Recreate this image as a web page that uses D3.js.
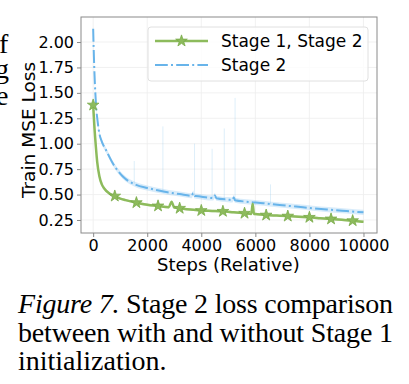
<!DOCTYPE html>
<html><head><meta charset="utf-8">
<script src="https://cdn.jsdelivr.net/npm/d3@7/dist/d3.min.js"></script>
<style>body{margin:0;background:#fff}svg{display:block}</style>
</head><body>
<script>
const greenSteps = [0,50,100,150,230,320,410,600,800,1000,1200,1600,2000,2400,2800,2900,3000,3200,3600,4000,4400,4800,5200,5600,5850,5900,5950,6000,6400,6800,7200,7600,8000,8400,8800,9200,9600,10000];
const greenLoss  = [1.38,1.15,0.97,0.82,0.68,0.60,0.56,0.51,0.485,0.46,0.445,0.42,0.40,0.388,0.376,0.43,0.372,0.365,0.352,0.343,0.339,0.335,0.325,0.316,0.31,0.41,0.309,0.308,0.298,0.293,0.288,0.282,0.276,0.268,0.26,0.252,0.243,0.232];
const blueSteps  = [0,40,80,120,160,230,320,470,720,1090,1590,2000,2330,2800,3200,3650,3700,3750,3800,4440,4500,4560,5000,5150,5200,5250,5670,6300,6900,7500,8130,8700,9370,10000];
const blueLoss   = [2.13,1.75,1.50,1.33,1.23,1.10,1.02,0.94,0.81,0.68,0.595,0.565,0.545,0.52,0.505,0.488,0.515,0.486,0.485,0.466,0.49,0.464,0.45,0.446,0.47,0.444,0.43,0.415,0.397,0.382,0.365,0.352,0.338,0.325];
const spikeSteps = [1520,2580,3750,4400,4850,5250,6560];
const spikeTops  = [0.83,1.17,1.00,0.95,1.15,1.45,0.60];
const markerSteps = [0,800,1600,2400,3200,4000,4800,5600,6400,7200,8000,8800,9600];
const xTicks = [0,2000,4000,6000,8000,10000];
const yTicks = [0.25,0.50,0.75,1.00,1.25,1.50,1.75,2.00];
const seriesNames = ["Stage 1, Stage 2","Stage 2"];
const captionLines = ["Stage 2 loss comparison","between with and without Stage 1","initialization."];
const sideLetters = ["f","g","e"];

const W=409,H=384;
const svg=d3.select("body").append("svg").attr("width",W).attr("height",H);
const L=81,R=377,T=17,B=233;
const x=d3.scaleLinear().domain([-450,10500]).range([L,R]);
const y=d3.scaleLinear().domain([0.122,2.246]).range([B,T]);
const green="#8dbb5c", blue="#68b4ea";
const font="DejaVu Sans, sans-serif";
const dash="12.8,3.2,2,3.2";

// clipped letters from neighbouring column
const side=svg.append("g").attr("font-family","Liberation Serif, serif").attr("font-size",28).attr("fill","#000");
side.selectAll("text").data(sideLetters).enter().append("text")
 .attr("x",(d,i)=>[-1,-5,-4][i]).attr("y",(d,i)=>[53,78,105][i]).text(d=>d);

// grid
const g=svg.append("g");
g.selectAll(".gx").data(xTicks).enter().append("line").attr("x1",d=>x(d)).attr("x2",d=>x(d)).attr("y1",T).attr("y2",B).attr("stroke","#ededed").attr("stroke-width",0.8);
g.selectAll(".gy").data(yTicks).enter().append("line").attr("y1",d=>y(d)).attr("y2",d=>y(d)).attr("x1",L).attr("x2",R).attr("stroke","#ededed").attr("stroke-width",0.8);

// faint spikes
const bInterp=d3.scaleLinear().domain(blueSteps).range(blueLoss);
g.selectAll(".sp").data(spikeSteps).enter().append("line")
 .attr("x1",d=>x(d)).attr("x2",d=>x(d))
 .attr("y1",d=>y(bInterp(d)))
 .attr("y2",(d,i)=>y(spikeTops[i]))
 .attr("stroke",blue).attr("stroke-opacity",0.22).attr("stroke-width",1);

// bands
const bBand=d3.area().x((d,i)=>x(blueSteps[i])).y0(d=>y(d-0.025)).y1(d=>y(d+0.025)).curve(d3.curveMonotoneX);
g.append("path").datum(blueLoss).attr("d",bBand).attr("fill",blue).attr("opacity",0.25);
const gBand=d3.area().x((d,i)=>x(greenSteps[i])).y0(d=>y(d-0.012)).y1(d=>y(d+0.012)).curve(d3.curveMonotoneX);
g.append("path").datum(greenLoss).attr("d",gBand).attr("fill",green).attr("opacity",0.3);

// lines
const bl=d3.line().x((d,i)=>x(blueSteps[i])).y(d=>y(d)).curve(d3.curveMonotoneX);
g.append("path").datum(blueLoss).attr("d",bl).attr("fill","none").attr("stroke",blue).attr("stroke-width",2).attr("stroke-dasharray",dash);
const gl=d3.line().x((d,i)=>x(greenSteps[i])).y(d=>y(d)).curve(d3.curveMonotoneX);
g.append("path").datum(greenLoss).attr("d",gl).attr("fill","none").attr("stroke",green).attr("stroke-width",2.5);

// markers
const keep=greenSteps.map((s,i)=>![2900,5900].includes(s));
const gInterp=d3.scaleLinear().domain(greenSteps.filter((s,i)=>keep[i])).range(greenLoss.filter((v,i)=>keep[i]));
const star=d3.symbol().type(d3.symbolStar).size(42);
g.selectAll(".mk").data(markerSteps).enter().append("path").attr("d",star)
 .attr("transform",d=>`translate(${x(d)},${y(gInterp(d))})`).attr("fill",green).attr("stroke","#7aab4a").attr("stroke-width",0.8);

// frame
svg.append("rect").attr("x",L).attr("y",T).attr("width",R-L).attr("height",B-T).attr("fill","none").attr("stroke","#8a8a8a").attr("stroke-width",1);

// axes
const ax=svg.append("g").attr("transform",`translate(0,${B})`).call(d3.axisBottom(x).tickValues(xTicks).tickSize(4).tickPadding(3).tickFormat(d3.format("d")));
const ay=svg.append("g").attr("transform",`translate(${L},0)`).call(d3.axisLeft(y).tickValues(yTicks).tickSize(4).tickPadding(3).tickFormat(d3.format(".2f")));
[ax,ay].forEach(a=>{a.select(".domain").remove();a.selectAll("line").attr("stroke","#8a8a8a");a.selectAll("text").attr("font-family",font).attr("font-size",16).attr("fill","#000");});

svg.append("text").attr("x",(x(0)+x(10000))/2).attr("y",271).attr("text-anchor","middle").attr("font-family",font).attr("font-size",18).text("Steps (Relative)");
svg.append("text").attr("transform",`translate(35,130) rotate(-90)`).attr("text-anchor","middle").attr("font-family",font).attr("font-size",18.5).text("Train MSE Loss");

// legend
const lg=svg.append("g");
lg.append("rect").attr("x",148).attr("y",27).attr("width",220).attr("height",54).attr("rx",3).attr("fill","#fff").attr("fill-opacity",0.8).attr("stroke","#e0e0e0");
lg.append("line").attr("x1",155).attr("x2",208).attr("y1",41).attr("y2",41).attr("stroke",green).attr("stroke-width",2.5);
lg.append("path").attr("d",star).attr("transform","translate(181.5,41)").attr("fill",green).attr("stroke","#7aab4a").attr("stroke-width",0.8);
lg.append("line").attr("x1",155).attr("x2",208).attr("y1",65).attr("y2",65).attr("stroke",blue).attr("stroke-width",2).attr("stroke-dasharray",dash);
lg.selectAll(".lt").data(seriesNames).enter().append("text").attr("x",221).attr("y",(d,i)=>41+i*24).attr("dy","0.35em").attr("font-family",font).attr("font-size",17).text(d=>d);

// caption
const cap=svg.append("g").attr("font-family","Liberation Serif, serif").attr("font-size",28).attr("fill","#000");
const t1=cap.append("text").attr("x",18).attr("y",313).attr("textLength",375).attr("lengthAdjust","spacing");
t1.append("tspan").attr("font-style","italic").text("Figure 7.");
t1.append("tspan").text(" "+captionLines[0]);
cap.append("text").attr("x",18).attr("y",341.5).attr("textLength",375).attr("lengthAdjust","spacing").text(captionLines[1]);
cap.append("text").attr("x",18).attr("y",369.5).text(captionLines[2]);
</script>
</body></html>
